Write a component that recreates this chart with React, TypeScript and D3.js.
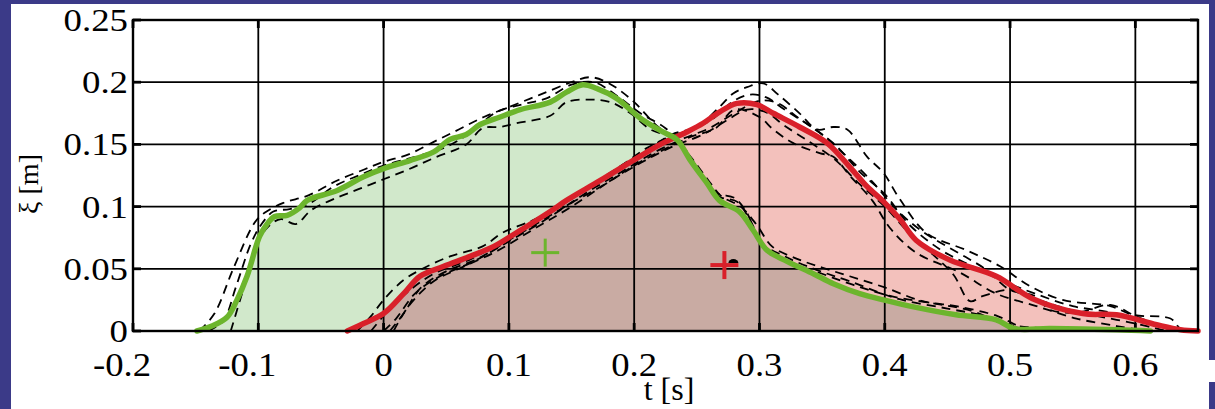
import React from 'react';
import * as d3 from 'd3';

const W = 1215;
const H = 409;

const xTicks = [-0.2, -0.1, 0, 0.1, 0.2, 0.3, 0.4, 0.5, 0.6];
const xTickLabels = ['-0.2', '-0.1', '0', '0.1', '0.2', '0.3', '0.4', '0.5', '0.6'];
const yTicks = [0, 0.05, 0.1, 0.15, 0.2, 0.25];
const yTickLabels = ['0', '0.05', '0.1', '0.15', '0.2', '0.25'];

const greenMain = [
  [-0.149, 0], [-0.137, 0.004], [-0.125, 0.011], [-0.117, 0.025], [-0.109, 0.044], [-0.099, 0.076],
  [-0.093, 0.086], [-0.087, 0.092], [-0.077, 0.093], [-0.067, 0.099], [-0.061, 0.105], [-0.037, 0.113],
  [-0.016, 0.124], [0.001, 0.131], [0.021, 0.137], [0.040, 0.144], [0.053, 0.154], [0.066, 0.158],
  [0.077, 0.166], [0.093, 0.172], [0.109, 0.178], [0.133, 0.184], [0.146, 0.192], [0.159, 0.198],
  [0.170, 0.195], [0.186, 0.187], [0.205, 0.171], [0.223, 0.160], [0.234, 0.154], [0.245, 0.137],
  [0.258, 0.119], [0.268, 0.105], [0.284, 0.096], [0.295, 0.081], [0.306, 0.065], [0.322, 0.056],
  [0.343, 0.046], [0.359, 0.038], [0.380, 0.030], [0.399, 0.025], [0.425, 0.019], [0.457, 0.013],
  [0.489, 0.009], [0.503, 0.002], [0.532, 0.002], [0.585, 0.001], [0.612, 0],
];

const redMain = [
  [-0.029, 0], [-0.016, 0.006], [0.0, 0.014], [0.016, 0.030], [0.029, 0.044], [0.048, 0.052],
  [0.069, 0.060], [0.088, 0.068], [0.106, 0.079], [0.119, 0.087], [0.133, 0.096], [0.146, 0.105],
  [0.173, 0.121], [0.199, 0.137], [0.221, 0.150], [0.242, 0.160], [0.255, 0.167], [0.268, 0.176],
  [0.282, 0.183], [0.298, 0.182], [0.311, 0.175], [0.332, 0.164], [0.354, 0.151], [0.372, 0.132],
  [0.386, 0.116], [0.399, 0.104], [0.412, 0.090], [0.425, 0.073], [0.452, 0.057], [0.489, 0.044],
  [0.518, 0.026], [0.558, 0.014], [0.585, 0.013], [0.617, 0.005], [0.636, 0.001], [0.650, 0],
];

const greenTrial1 = [
  [-0.147, 0], [-0.135, 0.014], [-0.12, 0.05], [-0.103, 0.087], [-0.095, 0.095], [-0.08, 0.103],
  [-0.06, 0.109], [-0.037, 0.121], [-0.015, 0.13], [0.0, 0.136], [0.02, 0.142], [0.04, 0.152],
  [0.06, 0.162], [0.08, 0.172], [0.1, 0.18], [0.125, 0.19], [0.15, 0.2], [0.165, 0.204],
  [0.18, 0.199], [0.2, 0.184], [0.218, 0.165], [0.235, 0.153], [0.252, 0.128], [0.266, 0.111],
  [0.28, 0.107], [0.29, 0.095], [0.3, 0.072], [0.32, 0.06], [0.346, 0.049], [0.372, 0.04],
  [0.41, 0.026], [0.45, 0.018], [0.48, 0.012], [0.5, 0.004], [0.52, 0.001],
];
const greenTrial2 = [
  [-0.122, 0], [-0.113, 0.03], [-0.101, 0.07], [-0.092, 0.084], [-0.082, 0.09], [-0.07, 0.086],
  [-0.058, 0.097], [-0.04, 0.106], [-0.02, 0.114], [0.0, 0.122], [0.02, 0.13], [0.04, 0.139],
  [0.066, 0.15], [0.079, 0.163], [0.093, 0.164], [0.106, 0.167], [0.133, 0.173], [0.146, 0.184],
  [0.165, 0.186], [0.181, 0.184], [0.197, 0.175], [0.213, 0.162], [0.231, 0.155], [0.245, 0.14],
  [0.26, 0.12], [0.27, 0.108], [0.285, 0.1], [0.298, 0.085], [0.31, 0.068], [0.33, 0.058],
  [0.35, 0.051], [0.372, 0.044], [0.4, 0.035], [0.43, 0.024], [0.457, 0.02], [0.49, 0.012],
  [0.51, 0.003], [0.55, 0.0],
];
const greenTrial3 = [
  [-0.14, 0], [-0.128, 0.008], [-0.118, 0.035], [-0.106, 0.07], [-0.098, 0.085], [-0.088, 0.096],
  [-0.075, 0.098], [-0.06, 0.102], [-0.04, 0.116], [-0.02, 0.125], [0.0, 0.133], [0.025, 0.14],
  [0.05, 0.148], [0.07, 0.16], [0.09, 0.176], [0.11, 0.182], [0.13, 0.187], [0.15, 0.198],
  [0.168, 0.2], [0.185, 0.19], [0.205, 0.175], [0.225, 0.163], [0.24, 0.147], [0.255, 0.124],
  [0.268, 0.108], [0.282, 0.104], [0.292, 0.09], [0.304, 0.068], [0.325, 0.055], [0.35, 0.046],
  [0.375, 0.037], [0.405, 0.028], [0.44, 0.022], [0.47, 0.016], [0.495, 0.006], [0.53, 0.002],
  [0.6, 0.0],
];

const redTrial1 = [
  [-0.021, 0], [-0.01, 0.012], [0.0, 0.025], [0.016, 0.041], [0.031, 0.05], [0.053, 0.06],
  [0.079, 0.068], [0.095, 0.079], [0.119, 0.089], [0.14, 0.1], [0.165, 0.116], [0.19, 0.133],
  [0.21, 0.147], [0.228, 0.156], [0.245, 0.162], [0.262, 0.17], [0.278, 0.184], [0.292, 0.19],
  [0.305, 0.188], [0.32, 0.178], [0.34, 0.165], [0.36, 0.15], [0.38, 0.128], [0.4, 0.11],
  [0.42, 0.085], [0.445, 0.065], [0.47, 0.052], [0.495, 0.04], [0.52, 0.03], [0.55, 0.02],
  [0.58, 0.015], [0.61, 0.006], [0.64, 0],
];
const redTrial2 = [
  [0.005, 0], [0.016, 0.014], [0.03, 0.035], [0.05, 0.048], [0.075, 0.058], [0.1, 0.073],
  [0.125, 0.088], [0.15, 0.103], [0.175, 0.117], [0.2, 0.133], [0.222, 0.145], [0.245, 0.156],
  [0.265, 0.163], [0.28, 0.178], [0.3, 0.172], [0.311, 0.162], [0.327, 0.151], [0.348, 0.143],
  [0.359, 0.14], [0.372, 0.125], [0.39, 0.105], [0.404, 0.083], [0.425, 0.063], [0.46, 0.047],
  [0.489, 0.03], [0.521, 0.02], [0.553, 0.01], [0.585, 0.004], [0.61, 0],
];
const redTrial3 = [
  [-0.01, 0], [0.005, 0.018], [0.02, 0.032], [0.04, 0.046], [0.07, 0.058], [0.1, 0.075],
  [0.13, 0.093], [0.16, 0.113], [0.185, 0.13], [0.21, 0.145], [0.23, 0.158], [0.25, 0.164],
  [0.268, 0.18], [0.279, 0.191], [0.29, 0.196], [0.303, 0.199], [0.315, 0.19], [0.332, 0.175],
  [0.346, 0.162], [0.359, 0.164], [0.37, 0.162], [0.386, 0.14], [0.399, 0.127], [0.412, 0.106],
  [0.433, 0.079], [0.465, 0.065], [0.492, 0.052], [0.516, 0.036], [0.542, 0.025], [0.58, 0.02],
  [0.598, 0.013], [0.628, 0.01], [0.636, 0.002], [0.645, 0],
];
const redTrial4 = [
  [0.0, 0], [0.01, 0.01], [0.025, 0.03], [0.045, 0.044], [0.07, 0.055], [0.1, 0.072],
  [0.13, 0.09], [0.16, 0.11], [0.19, 0.128], [0.215, 0.143], [0.24, 0.155], [0.26, 0.163],
  [0.28, 0.175], [0.3, 0.185], [0.315, 0.183], [0.33, 0.172], [0.35, 0.158], [0.37, 0.14],
  [0.39, 0.12], [0.41, 0.097], [0.43, 0.08], [0.46, 0.062], [0.48, 0.05], [0.5, 0.033],
  [0.52, 0.028], [0.532, 0.017], [0.555, 0.015], [0.58, 0.021], [0.6, 0.012], [0.62, 0.004],
  [0.63, 0],
];
const redTrial5 = [
  [0.008, 0], [0.02, 0.02], [0.04, 0.04], [0.06, 0.05], [0.09, 0.064], [0.12, 0.082],
  [0.15, 0.1], [0.18, 0.12], [0.205, 0.135], [0.23, 0.148], [0.255, 0.158], [0.275, 0.17],
  [0.29, 0.178], [0.305, 0.176], [0.32, 0.165], [0.34, 0.152], [0.36, 0.138], [0.38, 0.118],
  [0.4, 0.1], [0.42, 0.078], [0.44, 0.06], [0.455, 0.045], [0.468, 0.024], [0.478, 0.028],
  [0.5, 0.033], [0.52, 0.026], [0.545, 0.018], [0.57, 0.012], [0.6, 0.006], [0.625, 0],
];

const greenTrials = [greenTrial1, greenTrial2, greenTrial3];
const redTrials = [redTrial1, redTrial2, redTrial3, redTrial4, redTrial5];

const greenCentroid = [0.129, 0.063];
const redCentroid = [0.272, 0.053];

const BLUE = '#3b3a88';
const GREEN = '#6cb52d';
const RED = '#d9202a';
const GREEN_FILL = '#d1e8cb';
const RED_FILL = '#f3c1bc';
const OVERLAP_FILL = '#c9aba3';
const FONT = 'Liberation Serif, Times New Roman, Times, serif';

export default function App() {
  const x = d3.scaleLinear().domain([-0.2, 0.65]).range([133, 1198]);
  const y = d3.scaleLinear().domain([0, 0.25]).range([331, 20]);
  const curve = d3.curveCatmullRom.alpha(0.5);
  const line = d3.line<number[]>().x((d) => x(d[0])).y((d) => y(d[1])).curve(curve);
  const area = d3.area<number[]>().x((d) => x(d[0])).y0(y(0)).y1((d) => y(d[1])).curve(curve);

  const [x0, x1] = x.range();
  const [yb, yt] = y.range();
  const tickLen = 8;

  const cross = (c: number[], color: string, arm: number, sw: number) => (
    <g>
      <line x1={x(c[0]) - arm} x2={x(c[0]) + arm} y1={y(c[1])} y2={y(c[1])} stroke={color} strokeWidth={sw} />
      <line x1={x(c[0])} x2={x(c[0])} y1={y(c[1]) - arm} y2={y(c[1]) + arm} stroke={color} strokeWidth={sw} />
    </g>
  );

  const textStyle = { fontFamily: FONT } as React.CSSProperties;

  return (
    <svg width={W} height={H} style={{ position: 'absolute', left: 0, top: 0 }}>
      <defs>
        <clipPath id="greenClip">
          <path d={area(greenMain) || ''} />
        </clipPath>
      </defs>
      <rect x={0} y={0} width={W} height={H} fill={BLUE} />
      <rect x={11} y={4} width={1198} height={H - 4} fill="#ffffff" />
      <rect x={1209} y={360} width={6} height={22} fill="#ffffff" />

      {/* fills */}
      <path d={area(greenMain) || ''} fill={GREEN_FILL} />
      <path d={area(redMain) || ''} fill={RED_FILL} />
      <path d={area(redMain) || ''} fill={OVERLAP_FILL} clipPath="url(#greenClip)" />

      {/* grid */}
      {xTicks.map((t) => (
        <line key={'gx' + t} x1={x(t)} x2={x(t)} y1={yt} y2={yb} stroke="#000" strokeWidth={1.8} />
      ))}
      {yTicks.map((t) => (
        <line key={'gy' + t} x1={x0} x2={x1} y1={y(t)} y2={y(t)} stroke="#000" strokeWidth={1.8} />
      ))}
      {/* ticks */}
      {yTicks.map((t) => (
        <g key={'ty' + t}>
          <line x1={x0} x2={x0 + tickLen} y1={y(t)} y2={y(t)} stroke="#000" strokeWidth={2.8} />
          <line x1={x1} x2={x1 - tickLen} y1={y(t)} y2={y(t)} stroke="#000" strokeWidth={2.8} />
        </g>
      ))}
      {xTicks.map((t) => (
        <g key={'tx' + t}>
          <line x1={x(t)} x2={x(t)} y1={yb} y2={yb - tickLen} stroke="#000" strokeWidth={2.8} />
          <line x1={x(t)} x2={x(t)} y1={yt} y2={yt + tickLen} stroke="#000" strokeWidth={2.8} />
        </g>
      ))}

      {/* trial traces */}
      {[...greenTrials, ...redTrials].map((tr, i) => (
        <path key={'tr' + i} d={line(tr) || ''} fill="none" stroke="#000" strokeWidth={1.8} strokeDasharray="9 6" />
      ))}

      {/* mean curves */}
      <path d={line(redMain) || ''} fill="none" stroke={RED} strokeWidth={5.5} strokeLinejoin="round" strokeLinecap="round" />
      <path d={line(greenMain) || ''} fill="none" stroke={GREEN} strokeWidth={5.5} strokeLinejoin="round" strokeLinecap="round" />

      {/* centroids */}
      {cross(greenCentroid, GREEN, 14, 3)}
      {cross(redCentroid, RED, 14, 4)}
      <path
        d={`M ${x(redCentroid[0]) + 4} ${y(redCentroid[1]) - 2} a 5 4 0 0 1 10 0 z`}
        fill="#000"
      />

      {/* frame */}
      <rect x={x0} y={yt} width={x1 - x0} height={yb - yt} fill="none" stroke="#000" strokeWidth={2.4} />

      {/* tick labels */}
      {yTicks.map((t, i) => (
        <text
          key={'ly' + t}
          transform={`translate(128,${y(t) + 11}) scale(1.15,1)`}
          textAnchor="end"
          style={textStyle}
          fontSize={32}
          fill="#000"
        >
          {yTickLabels[i]}
        </text>
      ))}
      {xTicks.map((t, i) => (
        <text
          key={'lx' + t}
          transform={`translate(${x(t) + (t < 0 ? -11 : 0)},376) scale(1.08,1)`}
          textAnchor="middle"
          style={textStyle}
          fontSize={34}
          fill="#000"
        >
          {xTickLabels[i]}
        </text>
      ))}
      <text x={669} y={400} textAnchor="middle" style={textStyle} fontSize={32} fill="#000">
        t [s]
      </text>
      <text
        transform="translate(38,184) rotate(-90)"
        textAnchor="middle"
        style={textStyle}
        fontSize={28}
        fill="#000"
      >
        ξ [m]
      </text>
    </svg>
  );
}
